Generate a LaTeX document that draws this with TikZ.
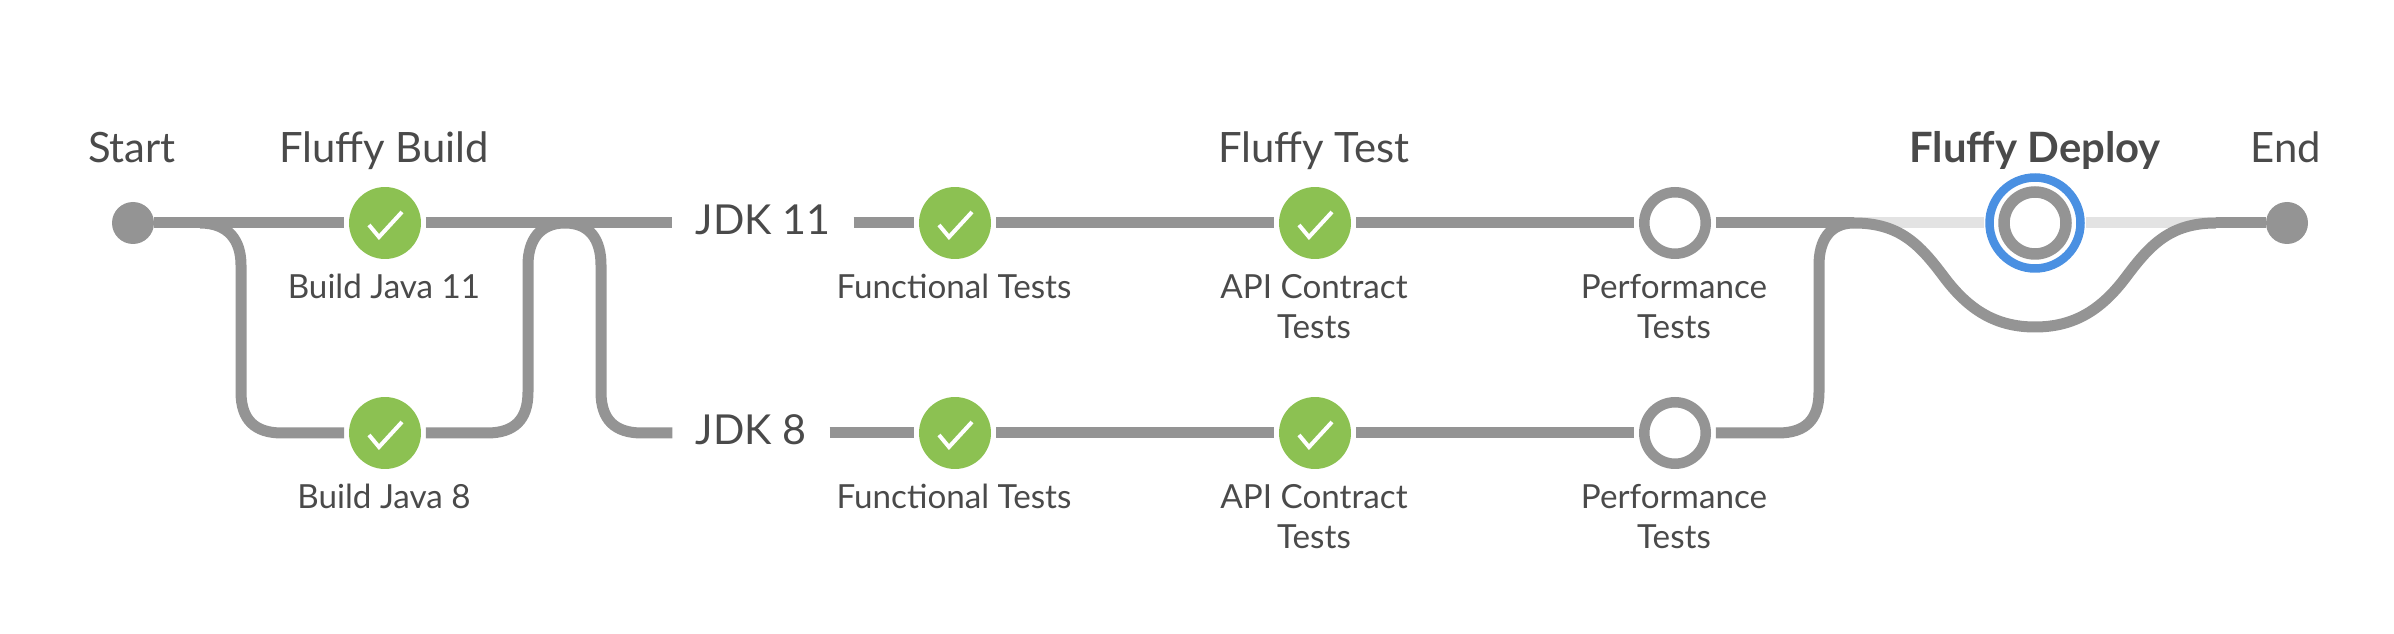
\documentclass[tikz,border=0pt]{standalone}
\usepackage{fontspec}
\setmainfont{Lato}
\definecolor{pipegray}{HTML}{949494}
\definecolor{passgreen}{HTML}{8CC152}
\definecolor{focusblue}{HTML}{4A90E2}
\definecolor{labelgray}{HTML}{4A4A4A}
\tikzset{
  pipe/.style={line width=0.22cm,pipegray},
  dotend/.style={circle,fill=pipegray,inner sep=0,minimum size=0.84cm},
  passed/.style={circle,fill=passgreen,inner sep=0,minimum size=1.44cm,outer sep=0.1cm},
  pending/.style={circle,draw=pipegray,line width=0.21cm,fill=white,inner sep=0,minimum size=1.23cm,outer sep=0.2cm},
  tickmark/.style={white,line width=0.08cm},
  stagename/.style={anchor=base,text=labelgray,font=\fontsize{23.8}{28}\selectfont},
  jdkname/.style={anchor=base,text=labelgray,font=\fontsize{23.5}{28}\selectfont,inner xsep=0.46cm},
  steplabel/.style={anchor=base,text=labelgray,align=center,font=\fontsize{18.9}{22.8}\selectfont},
}
\begin{document}
\begin{tikzpicture}[x=0.02cm,y=-0.02cm]
  \useasboundingbox (0,0) rectangle (2394,634);
  % stages along the two rows
  \node[dotend] (start) at (133,223) {};
  \node[dotend] (end) at (2287,223) {};
  \node[passed] (buildA) at (385,223) {};
  \node[passed] (buildB) at (385,433) {};
  \node[passed] (funcA) at (955,223) {};
  \node[passed] (funcB) at (955,433) {};
  \node[passed] (apiA) at (1315,223) {};
  \node[passed] (apiB) at (1315,433) {};
  \node[pending] (perfA) at (1675,223) {};
  \node[pending] (perfB) at (1675,433) {};
  \node[jdkname] (jdkA) at (763,235) {JDK 11};
  \node[jdkname] (jdkB) at (751,445) {JDK 8};
  \foreach \n in {buildA,buildB,funcA,funcB,apiA,apiB}
    \draw[tickmark] ([shift={(-16,2)}]\n.center) -- ++(10,12) -- ++(23,-25);
  % deploy stage with its ring
  \coordinate (splitC) at (1854,223);
  \coordinate (joinC) at (2216,223);
  \node[circle,draw=focusblue,line width=0.17cm,fill=white,inner sep=0,minimum size=1.82cm,outer sep=0.11cm] (halo) at (2035,223) {};
  \node[circle,draw=pipegray,line width=0.23cm,inner sep=0,minimum size=1.24cm] (deploy) at (2035,223) {};
  \draw[line width=0.22cm,black!11] (splitC) -- (halo);
  \draw[line width=0.22cm,black!11] (halo) -- (joinC);
  % straight runs
  \draw[pipe] (start) -- (buildA);
  \draw[pipe] (buildA) -- (jdkA.west |- buildA);
  \draw[pipe] (jdkA.east |- funcA) -- (funcA);
  \draw[pipe] (funcA) -- (apiA);
  \draw[pipe] (apiA) -- (perfA);
  \draw[pipe] (perfA) -- (splitC);
  \draw[pipe] (joinC) -- (end);
  \draw[pipe] (jdkB.east |- funcB) -- (funcB);
  \draw[pipe] (funcB) -- (apiB);
  \draw[pipe] (apiB) -- (perfB);
  % branches
  \coordinate (splitA) at (200,223);
  \coordinate (joinA) at (565,223);
  \draw[pipe] (splitA) .. controls (228,223) and (241,240) .. (241,265) -- (241,392)
    .. controls (241,420) and (255,433) .. (282,433) -- (buildB);
  \draw[pipe] (buildB) -- (487,433) .. controls (514,433) and (528,420) .. (528,392) -- (528,265)
    .. controls (528,240) and (540,223) .. (joinA);
  \draw[pipe] (joinA) .. controls (590,223) and (601,240) .. (601,265) -- (601,392)
    .. controls (601,420) and (615,433) .. (642,433) -- (jdkB.west |- buildB);
  \draw[pipe] (perfB) -- (1778,433) .. controls (1805,433) and (1819,420) .. (1819,392) -- (1819,265)
    .. controls (1819,240) and (1830,223) .. (splitC);
  \draw[pipe] (splitC) .. controls (1900,223) and (1920,245) .. (1944,277)
    .. controls (1968,309) and (1995,327) .. (2035,327)
    .. controls (2075,327) and (2102,309) .. (2126,277)
    .. controls (2150,245) and (2170,223) .. (joinC);
  % texts
  \node[stagename] (startname) at (132,163) {Start};
  \node[stagename] (endname) at (2286,163) {End};
  \node[stagename] (buildname) at (384,163) {Fluffy Build};
  \node[stagename] (testname) at (1314,163) {Fluffy Test};
  \node[stagename,font=\fontsize{23.8}{28}\selectfont\bfseries] (deployname) at (2035,163) {Fluffy Deploy};
  \node[steplabel] (buildAname) at (384,299) {Build Java 11};
  \node[steplabel] (buildBname) at (384,509) {Build Java 8};
  \node[steplabel] (funcAname) at (954,299) {Functional Tests};
  \node[steplabel] (funcBname) at (954,509) {Functional Tests};
  \node[steplabel] (apiAname) at (1314,339) {API Contract\\Tests};
  \node[steplabel] (apiBname) at (1314,549) {API Contract\\Tests};
  \node[steplabel] (perfAname) at (1674,339) {Performance\\Tests};
  \node[steplabel] (perfBname) at (1674,549) {Performance\\Tests};
\end{tikzpicture}
\end{document}
